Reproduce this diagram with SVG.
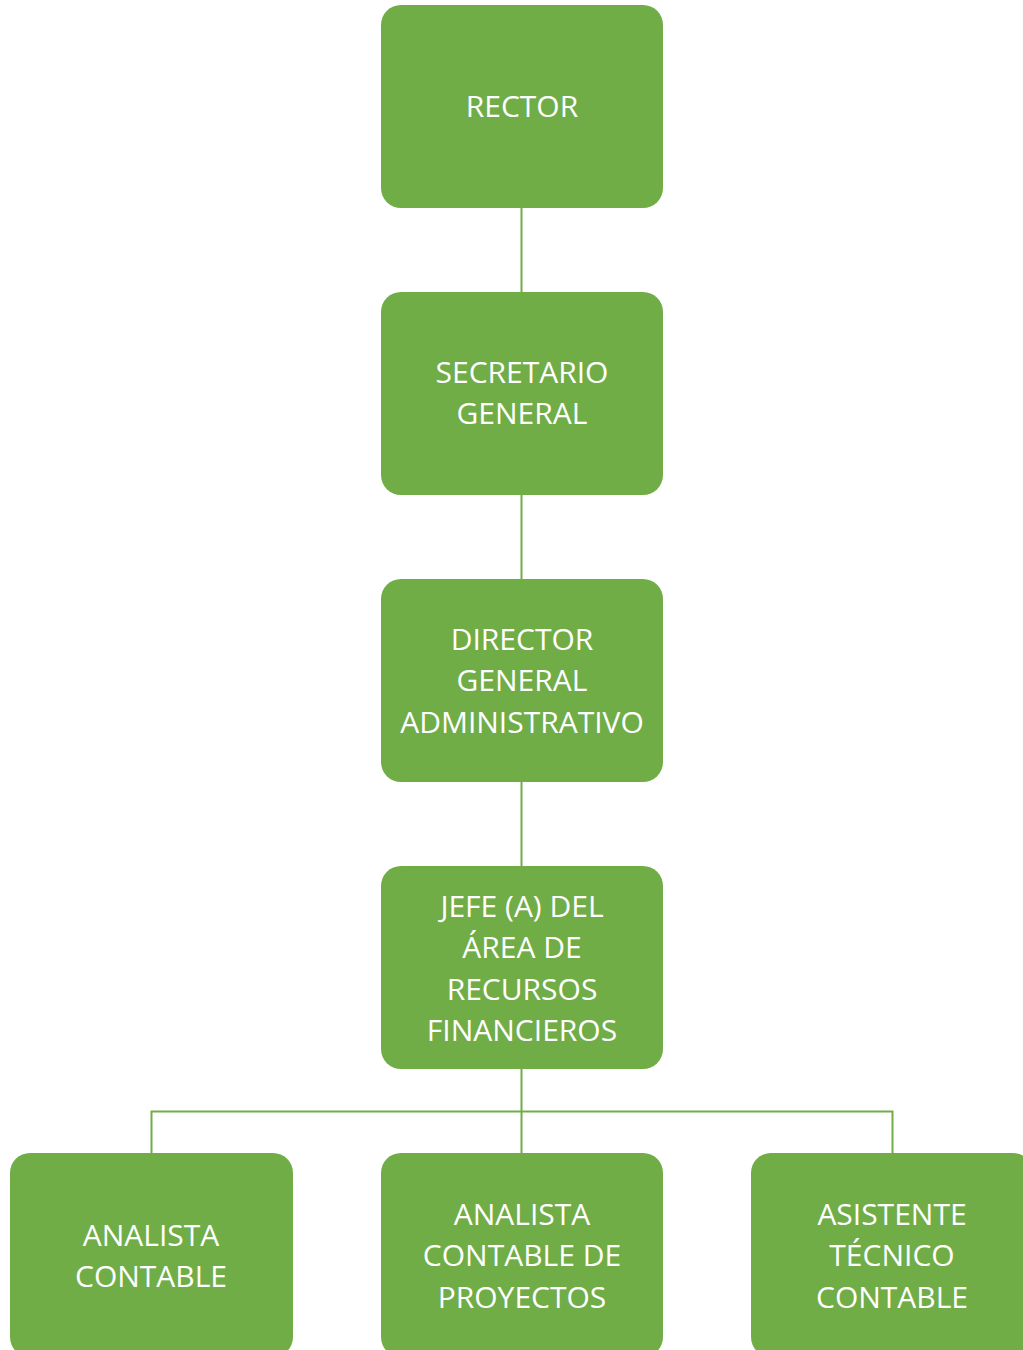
<svg xmlns="http://www.w3.org/2000/svg" width="1023" height="1350" viewBox="0 0 1023 1350">
<style>
.box{fill:#70AD47;}
.lbl{font-family:"Open Sans","Noto Sans",sans-serif;font-size:30px;fill:#FFFFFF;text-anchor:middle;}
.conn{stroke:#70AD47;stroke-width:2;fill:none;}
</style>
<rect width="1023" height="1350" fill="#FFFFFF"/>
<g id="connectors">
<line class="conn" x1="521.5" y1="208" x2="521.5" y2="292"/>
<line class="conn" x1="521.5" y1="495" x2="521.5" y2="579"/>
<line class="conn" x1="521.5" y1="782" x2="521.5" y2="866"/>
<line class="conn" x1="521.5" y1="1069" x2="521.5" y2="1153"/>
<polyline class="conn" points="151.5,1153 151.5,1111.5 892.5,1111.5 892.5,1153"/>
</g>
<g id="rector">
<rect class="box" x="381" y="5" width="282" height="203" rx="20"/>
<text class="lbl" x="522" y="117">RECTOR</text>
</g>
<g id="secretario">
<rect class="box" x="381" y="292" width="282" height="203" rx="20"/>
<text class="lbl" x="522" y="383">SECRETARIO</text>
<text class="lbl" x="522" y="424">GENERAL</text>
</g>
<g id="director">
<rect class="box" x="381" y="579" width="282" height="203" rx="20"/>
<text class="lbl" x="522" y="650">DIRECTOR</text>
<text class="lbl" x="522" y="691">GENERAL</text>
<text class="lbl" x="522" y="733">ADMINISTRATIVO</text>
</g>
<g id="jefe">
<rect class="box" x="381" y="866" width="282" height="203" rx="20"/>
<text class="lbl" x="522" y="917">JEFE (A) DEL</text>
<text class="lbl" x="522" y="958">ÁREA DE</text>
<text class="lbl" x="522" y="1000">RECURSOS</text>
<text class="lbl" x="522" y="1041">FINANCIEROS</text>
</g>
<g id="analista-contable">
<rect class="box" x="10" y="1153" width="283" height="204" rx="20"/>
<text class="lbl" x="151" y="1246">ANALISTA</text>
<text class="lbl" x="151" y="1287">CONTABLE</text>
</g>
<g id="analista-proyectos">
<rect class="box" x="381" y="1153" width="282" height="204" rx="20"/>
<text class="lbl" x="522" y="1225">ANALISTA</text>
<text class="lbl" x="522" y="1266">CONTABLE DE</text>
<text class="lbl" x="522" y="1308">PROYECTOS</text>
</g>
<g id="asistente">
<rect class="box" x="751" y="1153" width="282" height="204" rx="20"/>
<text class="lbl" x="892" y="1225">ASISTENTE</text>
<text class="lbl" x="892" y="1266">TÉCNICO</text>
<text class="lbl" x="892" y="1308">CONTABLE</text>
</g>
</svg>
